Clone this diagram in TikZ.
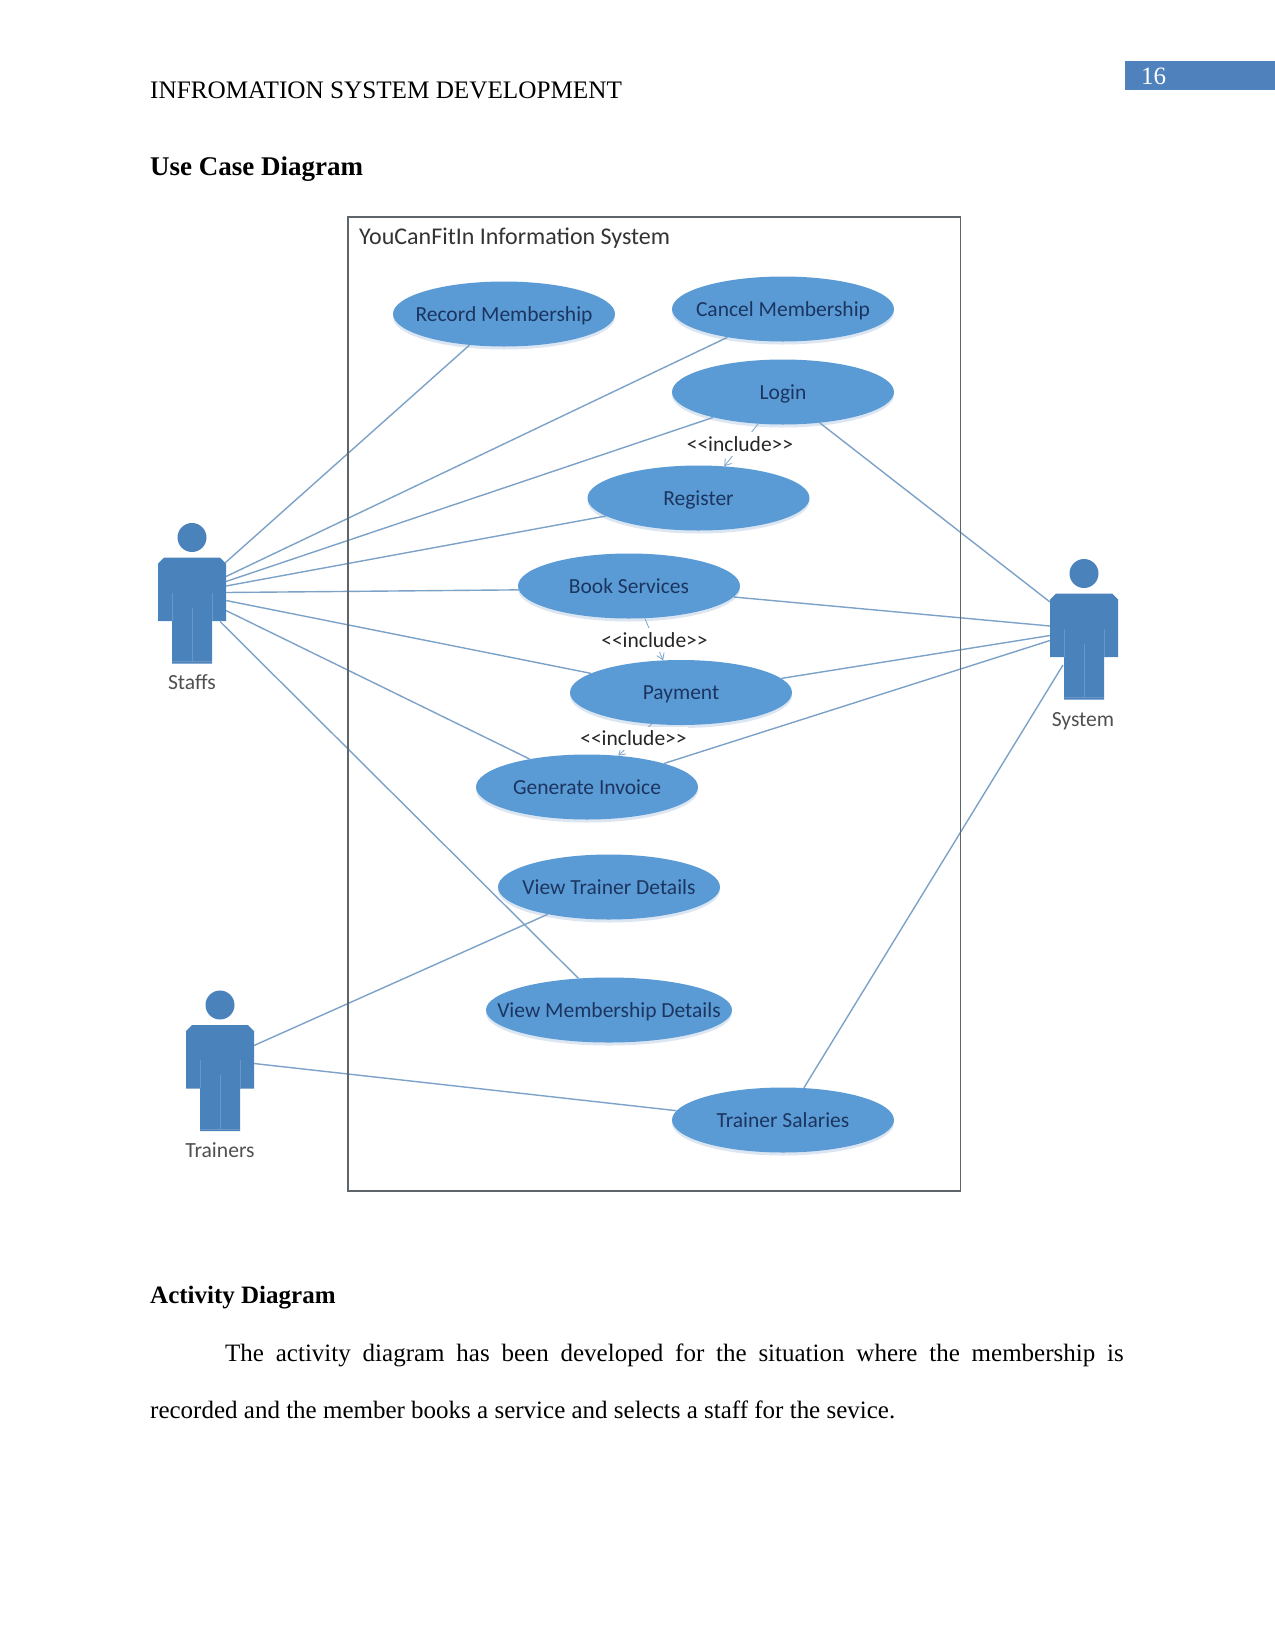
\documentclass[tikz,border=0pt]{standalone}
\usepackage{fontspec}
\setmainfont{Liberation Serif}
\newfontfamily\diagfont{Carlito}
\usetikzlibrary{shapes.geometric,shadows,arrows.meta}
\definecolor{ucfill}{HTML}{5B9BD5}
\definecolor{uctext}{HTML}{1B3560}
\definecolor{actorblue}{HTML}{4A82BC}
\definecolor{seam}{HTML}{6A97C8}
\definecolor{linkblue}{HTML}{7DA2C8}
\definecolor{framegrey}{HTML}{5F6469}
\definecolor{labelgrey}{HTML}{505050}
\definecolor{pageblue}{HTML}{4F81BD}
\definecolor{glow}{HTML}{D2E0EF}
\tikzset{
  usecase/.style={ellipse,fill=ucfill,minimum width=222pt,minimum height=65pt,inner sep=0pt,
    text=uctext,font=\diagfont\fontsize{21.5}{25}\selectfont,
    drop shadow={shadow xshift=0pt,shadow yshift=-3pt,opacity=.8,fill=glow}},
  link/.style={draw=linkblue,line width=1.4pt},
  incl/.style={draw=linkblue,line width=.8pt,-{Straight Barb[length=6pt,width=8pt]}},
  incllabel/.style={fill=white,inner xsep=1pt,inner ysep=4pt,text=black!85,font=\diagfont\fontsize{21.5}{24}\selectfont},
  actorlabel/.style={text=labelgrey,font=\diagfont\fontsize{21.6}{24}\selectfont},
  pagetext/.style={anchor=base west,inner sep=0pt,font=\fontsize{25}{30}\selectfont},
  frame/.style={draw=framegrey,line width=1.3pt}
}
\newcommand{\uctxt}[1]{\raisebox{-7pt}[0pt][0pt]{\makebox[0pt][c]{#1}}}
\newcommand{\ucactor}[3]{%
  \begin{scope}[shift={(#2,#3)}]
    \fill[actorblue] (0,0) circle (14.5);
    \fill[actorblue] (-28,20) -- (28,20) -- (34,26) -- (34,83.5) -- (20,83.5) -- (20,126)
      -- (-20,126) -- (-20,83.5) -- (-34,83.5) -- (-34,26) -- cycle;
    \draw[seam,line width=.7pt] (0,70) -- (0,124) (-20,124) -- (20,124);
    \draw[seam,line width=.5pt] (-20,55) -- (-20,83) (20,55) -- (20,83);
  \end{scope}}
\begin{document}
\begin{tikzpicture}[x=1pt,y=-1pt]
\useasboundingbox (0,0) rectangle (1275,1650);
\fill[white] (0,0) rectangle (1275,1650);
% page furniture
\fill[pageblue] (1124.5,60.5) rectangle (1275,89.5);
\node[pagetext,text=white] (pagenum) at (1141,84) {16};
\node[pagetext,font=\fontsize{25.2}{30}\selectfont] (header) at (150,98) {INFROMATION SYSTEM DEVELOPMENT};
\node[anchor=base west,inner sep=0pt,font=\bfseries\fontsize{27}{30}\selectfont] (title1) at (150,175) {Use Case Diagram};
\node[anchor=base west,inner sep=0pt,font=\bfseries\fontsize{25}{30}\selectfont] (title2) at (150,1303) {Activity Diagram};
\node[pagetext] (para1) at (225,1361) {\makebox[898.5pt][s]{The activity diagram has been developed for the situation where the membership is}};
\node[pagetext] (para2) at (150,1418) {recorded and the member books a service and selects a staff for the sevice.};
% actors
\ucactor{staff}{192}{537.5}
\ucactor{sys}{1084}{573.5}
\ucactor{trn}{220}{1005}
\node[actorlabel] (stafflabel) at (192,682) {Staffs};
\node[actorlabel] (syslabel) at (1083,721) {System};
\node[actorlabel] (trnlabel) at (220,1150) {Trainers};
% use cases
\node[usecase] (rec) at (504,314) {\uctxt{Record Membership}};
\node[usecase] (can) at (783,309) {\uctxt{Cancel Membership}};
\node[usecase] (log) at (783,392) {\uctxt{Login}};
\node[usecase] (reg) at (698.5,498) {\uctxt{Register}};
\node[usecase] (boo) at (629,586) {\uctxt{Book Services}};
\node[usecase] (pay) at (681,692.5) {\uctxt{Payment}};
\node[usecase] (gen) at (587,787) {\uctxt{Generate Invoice}};
\node[usecase] (vtd) at (609,887) {\uctxt{View Trainer Details}};
\node[usecase,minimum width=246pt] (vmd) at (609,1010) {\uctxt{View Membership Details}};
\node[usecase] (sal) at (783,1120) {\uctxt{Trainer Salaries}};
% free ends on the actors
\coordinate (sa) at (225,563);
\coordinate (sb) at (226,576.5);
\coordinate (sc) at (226,581.5);
\coordinate (sd) at (226,586);
\coordinate (se) at (226,592.5);
\coordinate (sf) at (226,600.5);
\coordinate (sg) at (226,610.5);
\coordinate (sh) at (220,621.5);
\coordinate (ya) at (1050,602);
\coordinate (yb) at (1050,626);
\coordinate (yc) at (1050,635.5);
\coordinate (yd) at (1050,640.5);
\coordinate (ye) at (1063,665);
\coordinate (ta) at (254,1045.5);
\coordinate (tb) at (254,1063.5);
% associations
\draw[link] (sa) -- (rec.222);
\draw[link] (sb) -- (can.207);
\draw[link] (sc) -- (log.200);
\draw[link] (sd) -- (reg.191);
\draw[link] (se) -- (boo.182);
\draw[link] (sf) -- (pay.168);
\draw[link] (sg) -- (gen.154);
\draw[link] (sh) -- (vmd.134.6);
\draw[link] (ya) -- (log.320);
\draw[link] (yb) -- (boo.354);
\draw[link] (yc) -- (pay.8);
\draw[link] (yd) -- (gen.17);
\draw[link] (ye) -- (sal.57);
\draw[link] (ta) -- (vtd.204);
\draw[link] (tb) -- (sal.175);
% includes
\draw[incl] (log.232) -- (reg.51);
\draw[incl] (boo.296) -- (pay.119);
\draw[incl] (pay.227) -- (gen.45);
\node[incllabel] (il1) at (740,444) {<<include>>};
\node[incllabel] (il2) at (654.5,640) {<<include>>};
\node[incllabel] (il3) at (633.5,738.5) {<<include>>};
% system frame
\draw[frame] (348,217) rectangle (960.5,1191);
\node[anchor=base west,inner sep=0pt,text=black!80,font=\diagfont\fontsize{24}{26}\selectfont] (systitle) at (359,244) {YouCanFitIn Information System};
\end{tikzpicture}
\end{document}
